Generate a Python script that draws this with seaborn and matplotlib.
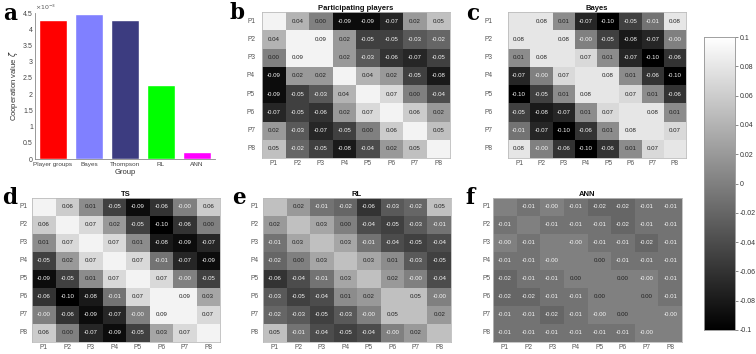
import numpy as np
import pandas as pd
import seaborn as sns
import matplotlib
matplotlib.use("Agg")
import matplotlib.pyplot as plt
from matplotlib.ticker import FuncFormatter, MultipleLocator

# ---------------- data ----------------
groups = ["Player groups", "Bayes", "Thompson", "RL", "ANN"]
coop_values = [4.27e-3, 4.48e-3, 4.27e-3, 2.27e-3, 0.22e-3]
bar_colors = ["#ff0000", "#8080ff", "#3c3c80", "#00ff00", "#ff00ff"]

players = ["P1", "P2", "P3", "P4", "P5", "P6", "P7", "P8"]
nan = np.nan

participating = [
    [nan, 0.04, 0.00, -0.09, -0.09, -0.07, 0.02, 0.05],
    [0.04, nan, 0.09, 0.02, -0.05, -0.05, -0.03, -0.02],
    [0.00, 0.09, nan, 0.02, -0.03, -0.06, -0.07, -0.05],
    [-0.09, 0.02, 0.02, nan, 0.04, 0.02, -0.05, -0.08],
    [-0.09, -0.05, -0.03, 0.04, nan, 0.07, 0.00, -0.04],
    [-0.07, -0.05, -0.06, 0.02, 0.07, nan, 0.06, 0.02],
    [0.02, -0.03, -0.07, -0.05, 0.00, 0.06, nan, 0.05],
    [0.05, -0.02, -0.05, -0.08, -0.04, 0.02, 0.05, nan],
]
bayes = [
    [nan, 0.08, 0.01, -0.07, -0.10, -0.05, -0.01, 0.08],
    [0.08, nan, 0.08, -0.0, -0.05, -0.08, -0.07, -0.0],
    [0.01, 0.08, nan, 0.07, 0.01, -0.07, -0.10, -0.06],
    [-0.07, -0.0, 0.07, nan, 0.08, 0.01, -0.06, -0.10],
    [-0.10, -0.05, 0.01, 0.08, nan, 0.07, 0.01, -0.06],
    [-0.05, -0.08, -0.07, 0.01, 0.07, nan, 0.08, 0.01],
    [-0.01, -0.07, -0.10, -0.06, 0.01, 0.08, nan, 0.07],
    [0.08, -0.0, -0.06, -0.10, -0.06, 0.01, 0.07, nan],
]
ts = [
    [nan, 0.06, 0.01, -0.05, -0.09, -0.06, -0.0, 0.06],
    [0.06, nan, 0.07, 0.02, -0.05, -0.10, -0.06, 0.00],
    [0.01, 0.07, nan, 0.07, 0.01, -0.08, -0.09, -0.07],
    [-0.05, 0.02, 0.07, nan, 0.07, -0.01, -0.07, -0.09],
    [-0.09, -0.05, 0.01, 0.07, nan, 0.07, -0.0, -0.05],
    [-0.06, -0.10, -0.08, -0.01, 0.07, nan, 0.09, 0.03],
    [-0.0, -0.06, -0.09, -0.07, -0.0, 0.09, nan, 0.07],
    [0.06, 0.00, -0.07, -0.09, -0.05, 0.03, 0.07, nan],
]
rl = [
    [nan, 0.02, -0.01, -0.02, -0.06, -0.03, -0.02, 0.05],
    [0.02, nan, 0.03, 0.00, -0.04, -0.05, -0.03, -0.01],
    [-0.01, 0.03, nan, 0.03, -0.01, -0.04, -0.05, -0.04],
    [-0.02, 0.00, 0.03, nan, 0.03, 0.01, -0.03, -0.05],
    [-0.06, -0.04, -0.01, 0.03, nan, 0.02, -0.0, -0.04],
    [-0.03, -0.05, -0.04, 0.01, 0.02, nan, 0.05, -0.0],
    [-0.02, -0.03, -0.05, -0.03, -0.0, 0.05, nan, 0.02],
    [0.05, -0.01, -0.04, -0.05, -0.04, -0.0, 0.02, nan],
]
ann = [
    [nan, -0.01, -0.0, -0.01, -0.02, -0.02, -0.01, -0.01],
    [-0.01, nan, -0.01, -0.01, -0.01, -0.02, -0.01, -0.01],
    [-0.0, -0.01, nan, -0.0, -0.01, -0.01, -0.02, -0.01],
    [-0.01, -0.01, -0.0, nan, 0.00, -0.01, -0.01, -0.01],
    [-0.02, -0.01, -0.01, 0.00, nan, 0.00, -0.0, -0.01],
    [-0.02, -0.02, -0.01, -0.01, 0.00, nan, 0.00, -0.01],
    [-0.01, -0.01, -0.02, -0.01, -0.0, 0.00, nan, -0.0],
    [-0.01, -0.01, -0.01, -0.01, -0.01, -0.01, -0.0, nan],
]

panels = [
    ("b", "Participating players", participating),
    ("c", "Bayes", bayes),
    ("d", "TS", ts),
    ("e", "RL", rl),
    ("f", "ANN", ann),
]

# ---------------- layout ----------------
W, H = 756, 354
sns.set_theme(style="white")
plt.rcParams["font.family"] = ["Liberation Sans", "DejaVu Sans"]
fig = plt.figure(figsize=(W / 100, H / 100), dpi=100)


def box(l, r, t, b):
    return [l / W, (H - b) / H, (r - l) / W, (b - t) / H]


rects = {
    "a": box(35, 215, 13, 159),
    "b": box(262, 450, 12, 158),
    "c": box(508, 686, 12, 158),
    "d": box(32, 220, 198, 342),
    "e": box(263, 451, 198, 342),
    "f": box(493, 682, 198, 342),
}
ypads = {"b": 5, "c": 11, "d": 3, "e": 3, "f": 2}
letter_pos = {"a": (3, 20), "b": (230, 19), "c": (466, 20),
              "d": (2, 204), "e": (232, 204), "f": (465, 204)}

# ---------------- panel a ----------------
ax = fig.add_axes(rects["a"])
df = pd.DataFrame({"Group": groups, "value": coop_values})
sns.barplot(data=df, x="Group", y="value", hue="Group", palette=bar_colors,
            legend=False, width=0.8, saturation=1, ax=ax)
ax.set_ylim(0, 4.5e-3)
ax.yaxis.set_major_locator(MultipleLocator(0.5e-3))
ax.yaxis.set_major_formatter(FuncFormatter(lambda v, p: f"{v * 1e3:g}"))
ax.text(0.0, 1.005, r"$\times10^{-3}$", transform=ax.transAxes, fontsize=4.5,
        color="#555555", ha="left", va="bottom")
ax.set_ylabel(r"Cooperation value $\zeta$", fontsize=5.5, color="#333333", labelpad=2)
ax.set_xlabel("Group", fontsize=5.5, color="#333333", labelpad=1)
ax.tick_params(axis="y", labelsize=5, colors="#444444", length=2, width=0.5,
               pad=1.5, direction="in")
ax.tick_params(axis="x", labelsize=4.6, colors="#444444", length=0, pad=2.5)
for s in ["top", "right"]:
    ax.spines[s].set_visible(False)
for s in ["left", "bottom"]:
    ax.spines[s].set_color("#888888")
    ax.spines[s].set_linewidth(0.6)

# ---------------- heatmaps ----------------
cax = fig.add_axes(box(704, 735, 37, 330))
for i, (letter, title, mat) in enumerate(panels):
    m = np.array(mat, dtype=float)
    diag_val = np.nanmax(m)
    colors_m = np.where(np.isnan(m), diag_val, m)
    labels = np.array([["" if np.isnan(v) else f"{v:.2f}" for v in row] for row in m])
    hax = fig.add_axes(rects[letter])
    sns.heatmap(pd.DataFrame(colors_m, index=players, columns=players),
                cmap="gray", vmin=-0.1, vmax=0.1, annot=labels, fmt="",
                annot_kws={"fontsize": 4.4}, cbar=(i == 0),
                cbar_ax=cax if i == 0 else None, ax=hax, square=False)
    # text colour: dark on non-negative values, white on negative ones
    flat = [v for row in m for v in row if not np.isnan(v)]
    for txt, v in zip([t for t in hax.texts if t.get_text() != ""], flat):
        txt.set_color("#222222" if not np.signbit(v) else "#f4f4f4")
    hax.set_title(title, fontsize=5.5, fontweight="bold", pad=1.5, color="#111111")
    hax.set_xlabel("")
    hax.set_ylabel("")
    hax.tick_params(axis="x", labelsize=4.8, colors="#555555", length=0, pad=1.5)
    hax.tick_params(axis="y", labelsize=4.8, colors="#555555", length=0, pad=ypads[letter])
    hax.set_yticklabels(players, rotation=0)
    hax.set_xticklabels(players, rotation=0)
    for s in hax.spines.values():
        s.set_visible(True)
        s.set_color("#bbbbbb")
        s.set_linewidth(0.6)

cax.set_yticks(np.round(np.arange(-0.1, 0.1001, 0.02), 2))
cax.yaxis.set_major_formatter(FuncFormatter(lambda v, p: f"{v:g}"))
cax.tick_params(labelsize=5, colors="#333333", length=2, width=0.4, pad=1.5)
for s in cax.spines.values():
    s.set_visible(True)
    s.set_color("#999999")
    s.set_linewidth(0.5)

# ---------------- panel letters ----------------
for letter, (x, y) in letter_pos.items():
    fig.text(x / W, (H - y) / H, letter, fontsize=15.5, fontweight="bold",
             family=["DejaVu Serif"], ha="left", va="baseline", color="black")

fig.savefig("out.png", dpi=100)
